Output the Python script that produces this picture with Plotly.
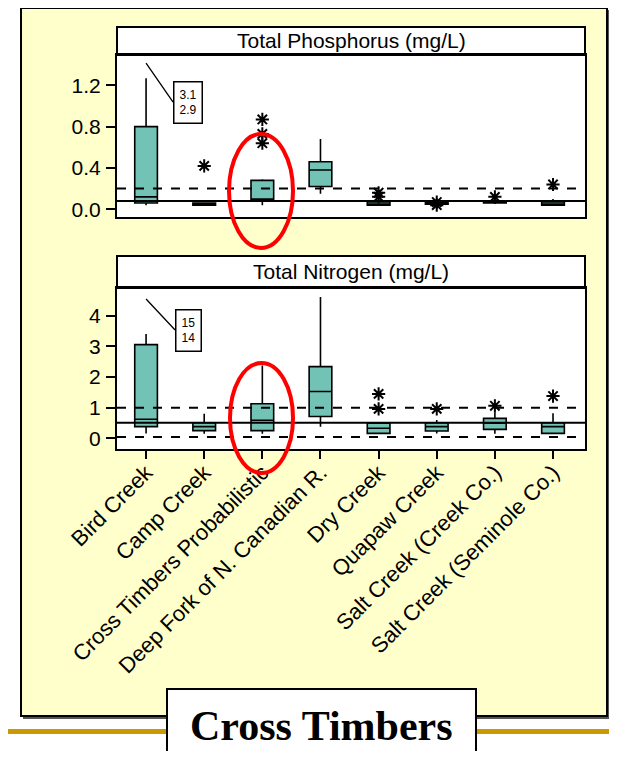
import plotly.graph_objects as go

OFF = 8  # page body margin of the html document
W, H = 617 - OFF, 759 - 2 * OFF

categories = ["Bird Creek", "Camp Creek", "Cross Timbers Probabilistic",
              "Deep Fork of N. Canadian R.", "Dry Creek", "Quapaw Creek",
              "Salt Creek (Creek Co.)", "Salt Creek (Seminole Co.)"]

# Total Phosphorus (mg/L)
tp_low    = [0.04, 0.04, 0.04, 0.15, 0.04, 0.04, 0.05, 0.04]
tp_q1     = [0.06, 0.04, 0.09, 0.22, 0.04, 0.05, 0.06, 0.04]
tp_median = [0.12, 0.05, 0.10, 0.38, 0.05, 0.06, 0.07, 0.05]
tp_q3     = [0.80, 0.06, 0.28, 0.46, 0.07, 0.07, 0.08, 0.07]
tp_high   = [1.27, 0.06, 0.29, 0.68, 0.08, 0.08, 0.09, 0.10]
tp_outliers = [[], [0.42], [0.87, 0.73, 0.64], [], [0.16, 0.12], [0.07, 0.04], [0.12], [0.24]]
tp_ref_solid = [0.08]
tp_ref_dash = [0.20]
tp_callout = "3.1<br>2.9"

# Total Nitrogen (mg/L)
tn_low    = [0.16, 0.15, 0.15, 0.38, 0.15, 0.16, 0.15, 0.15]
tn_q1     = [0.38, 0.25, 0.25, 0.71, 0.16, 0.24, 0.29, 0.16]
tn_median = [0.62, 0.38, 0.59, 1.53, 0.33, 0.38, 0.49, 0.38]
tn_q3     = [3.06, 0.51, 1.13, 2.34, 0.49, 0.51, 0.65, 0.51]
tn_high   = [3.41, 0.80, 2.38, 4.62, 0.49, 0.60, 0.85, 0.82]
tn_outliers = [[], [], [], [], [1.45, 0.96], [0.96], [1.06], [1.38]]
tn_ref_solid = [0.51]
tn_ref_dash = [1.0, 0.04]
tn_callout = "15<br>14"

tp_ticks = [0.0, 0.4, 0.8, 1.2]
tp_ticktext = ["0.0", "0.4", "0.8", "1.2"]
tn_ticks = [0, 1, 2, 3, 4]

BOX_FILL = "#72C2B6"
FONT = "Liberation Sans"


def px(x):
    return (x - OFF) / W


def py(y):
    return 1 - (y - OFF) / H


fig = go.Figure()

for xa, ya, lo, q1, md, q3, hi, outs in [
    ("x", "y", tp_low, tp_q1, tp_median, tp_q3, tp_high, tp_outliers),
    ("x2", "y2", tn_low, tn_q1, tn_median, tn_q3, tn_high, tn_outliers),
]:
    fig.add_trace(go.Box(
        x=categories, q1=q1, median=md, q3=q3, lowerfence=lo, upperfence=hi,
        boxpoints=False, fillcolor=BOX_FILL, line=dict(color="black", width=1.6),
        whiskerwidth=0, width=0.39, xaxis=xa, yaxis=ya, showlegend=False,
        hoverinfo="skip",
    ))
    ox, oy = [], []
    for c, vals in zip(categories, outs):
        for v in vals:
            ox.append(c)
            oy.append(v)
    fig.add_trace(go.Scatter(
        x=ox, y=oy, mode="markers", xaxis=xa, yaxis=ya, showlegend=False,
        marker=dict(symbol="asterisk-open", size=11, color="black",
                    line=dict(color="black", width=2)),
        hoverinfo="skip",
    ))

shapes = []
# shadow and yellow background box
shapes.append(dict(type="rect", xref="paper", yref="paper", layer="below",
                   x0=px(23), x1=px(609.5), y0=py(10), y1=py(719),
                   fillcolor="#555555", line=dict(width=0)))
shapes.append(dict(type="rect", xref="paper", yref="paper", layer="below",
                   x0=px(21), x1=px(607), y0=py(8), y1=py(716),
                   fillcolor="#FFFFCC", line=dict(color="black", width=2)))
# plot area white backgrounds and header strips
for top, bot, htop in [(55, 217, 27), (288, 449, 256)]:
    shapes.append(dict(type="rect", xref="paper", yref="paper", layer="below",
                       x0=px(117), x1=px(585), y0=py(bot), y1=py(top),
                       fillcolor="white", line=dict(width=0)))
    shapes.append(dict(type="rect", xref="paper", yref="paper", layer="below",
                       x0=px(117), x1=px(585), y0=py(top), y1=py(htop),
                       fillcolor="white", line=dict(color="black", width=2)))

# reference lines
for v in tp_ref_solid:
    shapes.append(dict(type="line", xref="x domain", yref="y", x0=0, x1=1, y0=v, y1=v,
                       line=dict(color="black", width=2), layer="above"))
for v in tp_ref_dash:
    shapes.append(dict(type="line", xref="x domain", yref="y", x0=0, x1=1, y0=v, y1=v,
                       line=dict(color="black", width=2, dash="dash"), layer="above"))
for v in tn_ref_solid:
    shapes.append(dict(type="line", xref="x2 domain", yref="y2", x0=0, x1=1, y0=v, y1=v,
                       line=dict(color="black", width=2), layer="above"))
for v in tn_ref_dash:
    shapes.append(dict(type="line", xref="x2 domain", yref="y2", x0=0, x1=1, y0=v, y1=v,
                       line=dict(color="black", width=2, dash="dash"), layer="above"))

# red ellipses
shapes.append(dict(type="circle", xref="paper", yref="paper", layer="above",
                   x0=px(229), x1=px(293), y0=py(248), y1=py(134),
                   line=dict(color="#FF0000", width=4)))
shapes.append(dict(type="circle", xref="paper", yref="paper", layer="above",
                   x0=px(230), x1=px(293), y0=py(473), y1=py(363),
                   line=dict(color="#FF0000", width=4)))

# gold line and title box
shapes.append(dict(type="line", xref="paper", yref="paper", layer="above",
                   x0=px(0), x1=px(613), y0=py(731.5), y1=py(731.5),
                   line=dict(color="#CC9900", width=5)))
shapes.append(dict(type="rect", xref="paper", yref="paper", layer="above",
                   x0=px(167), x1=px(476), y0=py(775), y1=py(689),
                   fillcolor="white", line=dict(color="black", width=2)))

annotations = [
    dict(text="Total Phosphorus (mg/L)", xref="paper", yref="paper",
         x=px(351), y=py(41), xanchor="center", yanchor="middle", showarrow=False,
         font=dict(family=FONT, size=21, color="black")),
    dict(text="Total Nitrogen (mg/L)", xref="paper", yref="paper",
         x=px(351), y=py(272), xanchor="center", yanchor="middle", showarrow=False,
         font=dict(family=FONT, size=21, color="black")),
    dict(text="<b>Cross Timbers</b>", xref="paper", yref="paper",
         x=px(321), y=py(726), xanchor="center", yanchor="middle", showarrow=False,
         font=dict(family="Liberation Serif", size=42, color="black")),
    dict(text=tp_callout, xref="x", yref="y", x=categories[0], y=1.416,
         ax=27, ay=39, xanchor="left", yanchor="middle", showarrow=True, arrowhead=0,
         arrowwidth=1.3, arrowcolor="black", bordercolor="black", borderwidth=1.5,
         borderpad=5, bgcolor="white", align="center",
         font=dict(family=FONT, size=12, color="black")),
    dict(text=tn_callout, xref="x2", yref="y2", x=categories[0], y=4.55,
         ax=29, ay=31, xanchor="left", yanchor="middle", showarrow=True, arrowhead=0,
         arrowwidth=1.3, arrowcolor="black", bordercolor="black", borderwidth=1.5,
         borderpad=5, bgcolor="white", align="center",
         font=dict(family=FONT, size=12, color="black")),
]

axis_common = dict(showline=True, linecolor="black", linewidth=2, mirror=True,
                   showgrid=False, zeroline=False, automargin=False)

fig.update_layout(
    width=W, height=H, autosize=False,
    margin=dict(l=0, r=0, t=0, b=0),
    paper_bgcolor="white", plot_bgcolor="rgba(0,0,0,0)",
    font=dict(family=FONT, color="black"),
    shapes=shapes, annotations=annotations,
    xaxis=dict(domain=[px(117), px(585)], anchor="y", type="category",
               range=[-0.5, 7.55], showticklabels=False, ticks="", **axis_common),
    yaxis=dict(domain=[py(217), py(55)], anchor="x", range=[-0.075, 1.494],
               tickvals=tp_ticks, ticktext=tp_ticktext, ticks="outside", ticklen=9,
               tickwidth=1.5, tickcolor="black", ticklabelstandoff=1,
               tickfont=dict(family=FONT, size=21, color="black"), **axis_common),
    xaxis2=dict(domain=[px(117), px(585)], anchor="y2", type="category",
                range=[-0.5, 7.55], tickangle=-45, ticks="outside", ticklen=8,
                tickwidth=1.5, tickcolor="black", ticklabelstandoff=-8,
                tickfont=dict(family=FONT, size=22, color="black"), **axis_common),
    yaxis2=dict(domain=[py(449), py(288)], anchor="x2", range=[-0.35, 4.91],
                tickvals=tn_ticks, ticks="outside", ticklen=9, tickwidth=1.5,
                tickcolor="black", ticklabelstandoff=1,
                tickfont=dict(family=FONT, size=21, color="black"), **axis_common),
)

fig.write_html("out.html")
